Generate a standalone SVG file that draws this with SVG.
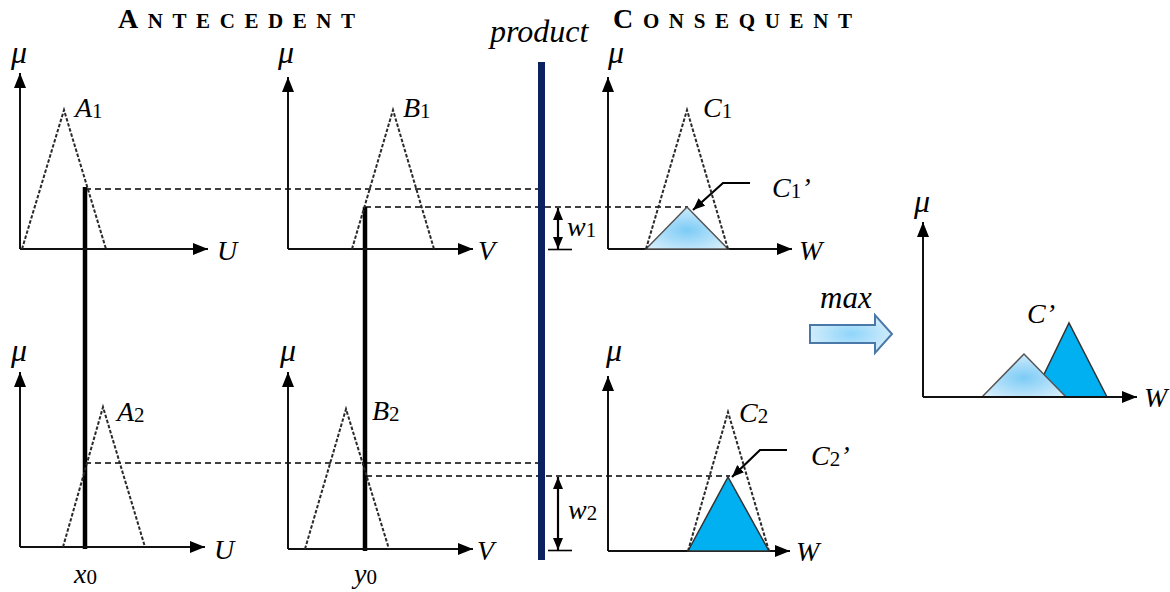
<svg xmlns="http://www.w3.org/2000/svg" width="1170" height="592" viewBox="0 0 1170 592">
<style>
.t{font-family:"Liberation Serif","Times New Roman",serif;fill:#000}
.it{font-style:italic;font-size:28px}
.sub{font-style:normal;font-size:21px}
.mu{font-style:italic;font-size:32px}
.title{font-weight:bold}
.ax{fill:none;stroke:#111;stroke-width:2;marker-end:url(#ah)}
.mf{fill:none;stroke:#2a2a2a;stroke-width:2;stroke-dasharray:3.5 1.8}
.dash{fill:none;stroke:#000;stroke-width:1.5;stroke-dasharray:6 4}
.thick{stroke:#000;stroke-width:4.5}
.ptr{fill:none;stroke:#000;stroke-width:2.2;marker-end:url(#ah2)}
</style>
<defs>
<marker id="ah" markerUnits="userSpaceOnUse" viewBox="0 0 15 12" markerWidth="15" markerHeight="12" refX="15" refY="6" orient="auto"><path d="M0,0 L15,6 L0,12 Z" fill="#000"/></marker>
<marker id="ah2" markerUnits="userSpaceOnUse" viewBox="0 0 12 10" markerWidth="12" markerHeight="10" refX="12" refY="5" orient="auto-start-reverse"><path d="M0,0 L12,5 L0,10 Z" fill="#000"/></marker>
<radialGradient id="lb" cx="50%" cy="55%" r="60%"><stop offset="0" stop-color="#7ccbf6"/><stop offset="1" stop-color="#d6eefc"/></radialGradient>
<radialGradient id="ab" cx="50%" cy="50%" r="60%"><stop offset="0" stop-color="#8fd5fa"/><stop offset="1" stop-color="#dcf0fc"/></radialGradient>
</defs>

<g id="titles">
<text class="t title" x="118" y="28" textLength="237" lengthAdjust="spacing"><tspan font-size="28">A</tspan><tspan font-size="21">NTECEDENT</tspan></text>
<text class="t title" x="613" y="28" textLength="239" lengthAdjust="spacing"><tspan font-size="28">C</tspan><tspan font-size="21">ONSEQUENT</tspan></text>
<text class="t" x="490" y="42" font-size="32" font-style="italic">product</text>
</g>

<g id="connectors">
<line class="dash" x1="85" y1="189" x2="540" y2="189"/>
<line class="dash" x1="365" y1="207" x2="688" y2="207"/>
<line class="dash" x1="85" y1="463" x2="540" y2="463"/>
<line class="dash" x1="366" y1="476" x2="730" y2="476"/>
<line class="thick" x1="85" y1="187" x2="85" y2="549"/>
<line class="thick" x1="365" y1="207" x2="365" y2="551"/>
<line class="ptr" x1="558" y1="249" x2="558" y2="208" marker-start="url(#ah2)"/>
<line x1="548" y1="249.5" x2="572" y2="249.5" stroke="#000" stroke-width="1.6"/>
<line class="ptr" x1="558" y1="550" x2="558" y2="477" marker-start="url(#ah2)"/>
<line x1="548" y1="550.5" x2="572" y2="550.5" stroke="#000" stroke-width="1.6"/>
<path class="ptr" d="M750,183 L723,183 L693,210"/>
<path class="ptr" d="M787,450 L760,450 L732,477"/>
</g>

<g id="product-bar">
<rect x="538" y="62" width="7" height="498" fill="#0b2260"/>
</g>

<g id="plotA1">
<text class="t mu" x="11" y="63">μ</text>
<path class="ax" d="M20,249 L20,73"/>
<path class="ax" d="M20,249 L208,249"/>
<path class="mf" d="M22,249 L64,110 L106,249"/>
<text class="t it" x="75" y="117">A<tspan class="sub" dy="1">1</tspan></text>
<text class="t it" x="217" y="260">U</text>
</g>

<g id="plotB1">
<text class="t mu" x="278" y="63">μ</text>
<path class="ax" d="M288,249 L288,77"/>
<path class="ax" d="M288,249 L473,249"/>
<path class="mf" d="M352,249 L393,110 L434,249"/>
<text class="t it" x="403" y="117">B<tspan class="sub" dy="1">1</tspan></text>
<text class="t it" x="478" y="260">V</text>
</g>

<g id="plotC1">
<text class="t mu" x="608" y="63">μ</text>
<path class="ax" d="M608,249 L608,77"/>
<path class="ax" d="M608,249 L792,249"/>
<path d="M646,249 L687,207 L728,249 Z" fill="url(#lb)" stroke="#555" stroke-width="1.5"/>
<path class="mf" d="M646,249 L687,110 L728,249"/>
<text class="t it" x="703" y="117">C<tspan class="sub" dy="1">1</tspan></text>
<text class="t it" x="772" y="197">C<tspan class="sub" dy="1">1</tspan><tspan dy="-1">’</tspan></text>
<text class="t it" x="799" y="260">W</text>
<text class="t it" x="567" y="236">w<tspan class="sub" dy="1">1</tspan></text>
</g>

<g id="plotA2">
<text class="t mu" x="11" y="361">μ</text>
<path class="ax" d="M20,547 L20,372"/>
<path class="ax" d="M20,547 L205,547"/>
<path class="mf" d="M63,547 L103,407 L145,547"/>
<text class="t it" x="117" y="421">A<tspan class="sub" dy="1">2</tspan></text>
<text class="t it" x="214" y="559">U</text>
<text class="t it" x="74" y="583">x<tspan class="sub" dy="1">0</tspan></text>
</g>

<g id="plotB2">
<text class="t mu" x="280" y="361">μ</text>
<path class="ax" d="M288,549 L288,372"/>
<path class="ax" d="M288,549 L473,549"/>
<path class="mf" d="M305,549 L346,409 L389,549"/>
<text class="t it" x="372" y="420">B<tspan class="sub" dy="1">2</tspan></text>
<text class="t it" x="477" y="560">V</text>
<text class="t it" x="354" y="583">y<tspan class="sub" dy="1">0</tspan></text>
</g>

<g id="plotC2">
<text class="t mu" x="606" y="361">μ</text>
<path class="ax" d="M608,551 L608,376"/>
<path class="ax" d="M608,551 L790,551"/>
<path d="M688,551 L728,477 L769,551 Z" fill="#00b0f0" stroke="#333" stroke-width="1.5"/>
<path class="mf" d="M688,551 L728,412 L769,551"/>
<text class="t it" x="739" y="422">C<tspan class="sub" dy="1">2</tspan></text>
<text class="t it" x="811" y="465">C<tspan class="sub" dy="1">2</tspan><tspan dy="-1">’</tspan></text>
<text class="t it" x="796" y="561">W</text>
<text class="t it" x="568" y="519">w<tspan class="sub" dy="1">2</tspan></text>
</g>

<g id="max-arrow">
<text class="t" x="820" y="308" font-size="31" font-style="italic">max</text>
<path d="M810,325 L875,325 L875,315 L892,334 L875,353 L875,343 L810,343 Z" fill="url(#ab)" stroke="#4a78a8" stroke-width="2"/>
</g>

<g id="plotResult">
<text class="t mu" x="914" y="212">μ</text>
<path class="ax" d="M923,397 L923,222"/>
<path d="M1033,397 L1069,323 L1107,397 Z" fill="#00b0f0" stroke="#333" stroke-width="1.5"/>
<path d="M982,397 L1024,354 L1066,397 Z" fill="url(#lb)" stroke="#555" stroke-width="1.5"/>
<path class="ax" d="M923,397 L1137,397"/>
<text class="t it" x="1027" y="323">C’</text>
<text class="t it" x="1144" y="407">W</text>
</g>
</svg>
